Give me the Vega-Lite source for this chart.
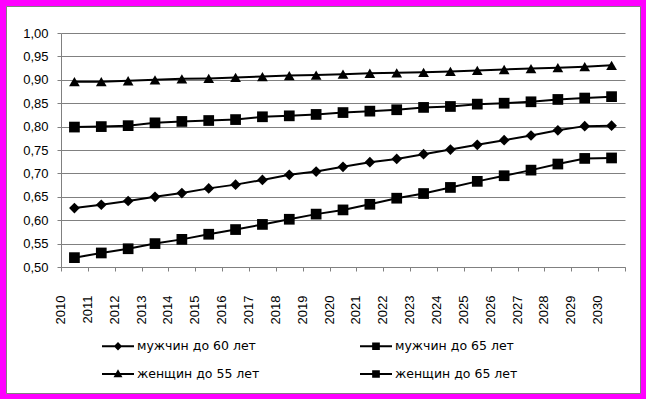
{
  "$schema": "https://vega.github.io/schema/vega-lite/v6.json",
  "width": 634,
  "height": 387,
  "padding": 6,
  "autosize": {"type": "none"},
  "background": "#ff00ff",
  "config": {
    "view": {"fill": "white", "stroke": "#808080", "strokeWidth": 1},
    "font": "Liberation Sans",
    "axis": {"labelFont": "Liberation Sans", "labelFontSize": 13, "labelColor": "black", "domainColor": "#808080", "tickColor": "#808080", "gridColor": "#808080"},
    "legend": {"labelFont": "DejaVu Sans", "labelFontSize": 12.5, "labelColor": "black"}
  },
  "data": {"values": [
    {"year": "2010", "series": "мужчин до 60 лет", "value": 0.626},
    {"year": "2011", "series": "мужчин до 60 лет", "value": 0.633},
    {"year": "2012", "series": "мужчин до 60 лет", "value": 0.641},
    {"year": "2013", "series": "мужчин до 60 лет", "value": 0.650},
    {"year": "2014", "series": "мужчин до 60 лет", "value": 0.658},
    {"year": "2015", "series": "мужчин до 60 лет", "value": 0.668},
    {"year": "2016", "series": "мужчин до 60 лет", "value": 0.676},
    {"year": "2017", "series": "мужчин до 60 лет", "value": 0.686},
    {"year": "2018", "series": "мужчин до 60 лет", "value": 0.697},
    {"year": "2019", "series": "мужчин до 60 лет", "value": 0.704},
    {"year": "2020", "series": "мужчин до 60 лет", "value": 0.714},
    {"year": "2021", "series": "мужчин до 60 лет", "value": 0.724},
    {"year": "2022", "series": "мужчин до 60 лет", "value": 0.731},
    {"year": "2023", "series": "мужчин до 60 лет", "value": 0.741},
    {"year": "2024", "series": "мужчин до 60 лет", "value": 0.751},
    {"year": "2025", "series": "мужчин до 60 лет", "value": 0.761},
    {"year": "2026", "series": "мужчин до 60 лет", "value": 0.771},
    {"year": "2027", "series": "мужчин до 60 лет", "value": 0.781},
    {"year": "2028", "series": "мужчин до 60 лет", "value": 0.792},
    {"year": "2029", "series": "мужчин до 60 лет", "value": 0.801},
    {"year": "2030", "series": "мужчин до 60 лет", "value": 0.802},
    {"year": "2010", "series": "мужчин до 65 лет", "value": 0.799},
    {"year": "2011", "series": "мужчин до 65 лет", "value": 0.800},
    {"year": "2012", "series": "мужчин до 65 лет", "value": 0.802},
    {"year": "2013", "series": "мужчин до 65 лет", "value": 0.808},
    {"year": "2014", "series": "мужчин до 65 лет", "value": 0.811},
    {"year": "2015", "series": "мужчин до 65 лет", "value": 0.813},
    {"year": "2016", "series": "мужчин до 65 лет", "value": 0.815},
    {"year": "2017", "series": "мужчин до 65 лет", "value": 0.821},
    {"year": "2018", "series": "мужчин до 65 лет", "value": 0.823},
    {"year": "2019", "series": "мужчин до 65 лет", "value": 0.826},
    {"year": "2020", "series": "мужчин до 65 лет", "value": 0.830},
    {"year": "2021", "series": "мужчин до 65 лет", "value": 0.833},
    {"year": "2022", "series": "мужчин до 65 лет", "value": 0.836},
    {"year": "2023", "series": "мужчин до 65 лет", "value": 0.841},
    {"year": "2024", "series": "мужчин до 65 лет", "value": 0.843},
    {"year": "2025", "series": "мужчин до 65 лет", "value": 0.848},
    {"year": "2026", "series": "мужчин до 65 лет", "value": 0.850},
    {"year": "2027", "series": "мужчин до 65 лет", "value": 0.853},
    {"year": "2028", "series": "мужчин до 65 лет", "value": 0.858},
    {"year": "2029", "series": "мужчин до 65 лет", "value": 0.861},
    {"year": "2030", "series": "мужчин до 65 лет", "value": 0.864},
    {"year": "2010", "series": "женщин до 55 лет", "value": 0.896},
    {"year": "2011", "series": "женщин до 55 лет", "value": 0.896},
    {"year": "2012", "series": "женщин до 55 лет", "value": 0.898},
    {"year": "2013", "series": "женщин до 55 лет", "value": 0.900},
    {"year": "2014", "series": "женщин до 55 лет", "value": 0.902},
    {"year": "2015", "series": "женщин до 55 лет", "value": 0.903},
    {"year": "2016", "series": "женщин до 55 лет", "value": 0.905},
    {"year": "2017", "series": "женщин до 55 лет", "value": 0.907},
    {"year": "2018", "series": "женщин до 55 лет", "value": 0.909},
    {"year": "2019", "series": "женщин до 55 лет", "value": 0.910},
    {"year": "2020", "series": "женщин до 55 лет", "value": 0.912},
    {"year": "2021", "series": "женщин до 55 лет", "value": 0.914},
    {"year": "2022", "series": "женщин до 55 лет", "value": 0.915},
    {"year": "2023", "series": "женщин до 55 лет", "value": 0.916},
    {"year": "2024", "series": "женщин до 55 лет", "value": 0.918},
    {"year": "2025", "series": "женщин до 55 лет", "value": 0.920},
    {"year": "2026", "series": "женщин до 55 лет", "value": 0.922},
    {"year": "2027", "series": "женщин до 55 лет", "value": 0.924},
    {"year": "2028", "series": "женщин до 55 лет", "value": 0.926},
    {"year": "2029", "series": "женщин до 55 лет", "value": 0.928},
    {"year": "2030", "series": "женщин до 55 лет", "value": 0.931},
    {"year": "2010", "series": "женщин до 65 лет", "value": 0.520},
    {"year": "2011", "series": "женщин до 65 лет", "value": 0.530},
    {"year": "2012", "series": "женщин до 65 лет", "value": 0.539},
    {"year": "2013", "series": "женщин до 65 лет", "value": 0.550},
    {"year": "2014", "series": "женщин до 65 лет", "value": 0.559},
    {"year": "2015", "series": "женщин до 65 лет", "value": 0.570},
    {"year": "2016", "series": "женщин до 65 лет", "value": 0.580},
    {"year": "2017", "series": "женщин до 65 лет", "value": 0.591},
    {"year": "2018", "series": "женщин до 65 лет", "value": 0.602},
    {"year": "2019", "series": "женщин до 65 лет", "value": 0.613},
    {"year": "2020", "series": "женщин до 65 лет", "value": 0.622},
    {"year": "2021", "series": "женщин до 65 лет", "value": 0.634},
    {"year": "2022", "series": "женщин до 65 лет", "value": 0.647},
    {"year": "2023", "series": "женщин до 65 лет", "value": 0.657},
    {"year": "2024", "series": "женщин до 65 лет", "value": 0.670},
    {"year": "2025", "series": "женщин до 65 лет", "value": 0.683},
    {"year": "2026", "series": "женщин до 65 лет", "value": 0.695},
    {"year": "2027", "series": "женщин до 65 лет", "value": 0.707},
    {"year": "2028", "series": "женщин до 65 лет", "value": 0.720},
    {"year": "2029", "series": "женщин до 65 лет", "value": 0.732},
    {"year": "2030", "series": "женщин до 65 лет", "value": 0.733}
  ]},
  "resolve": {"axis": {"x": "independent"}, "scale": {"shape": "independent"}},
  "layer": [
    {
      "mark": {"type": "line", "color": "black", "strokeWidth": 2},
      "encoding": {
        "x": {
          "field": "year", "type": "ordinal", "bandPosition": 0.5,
          "scale": {"type": "band", "range": [55, 619], "paddingInner": 0, "paddingOuter": 0},
          "axis": {"orient": "bottom", "offset": -126, "title": null, "labelAngle": -90, "labelOffset": -13.4, "ticks": false, "tickSize": 0, "labelPadding": 28, "domain": false, "grid": false}
        },
        "y": {
          "field": "value", "type": "quantitative",
          "scale": {"domain": [0.5, 1], "range": [261, 27], "nice": false, "zero": false},
          "axis": {"orient": "left", "offset": -55, "title": null, "values": [0.5, 0.55, 0.6, 0.65, 0.7, 0.75, 0.8, 0.85, 0.9, 0.95, 1.0], "tickCount": 30, "labelOverlap": false, "labelExpr": "replace(format(datum.value, '.2f'), '.', ',')", "grid": true, "tickSize": 4, "labelPadding": 9}
        },
        "detail": {"field": "series"}
      }
    },
    {
      "mark": {"type": "point", "filled": true, "color": "black", "opacity": 1, "size": 115},
      "encoding": {
        "x": {
          "field": "year", "type": "ordinal", "bandPosition": 0.5,
          "axis": {"orient": "bottom", "offset": -126, "title": null, "labels": false, "tickBand": "extent", "tickSize": 4, "domain": true, "grid": false}
        },
        "y": {
          "field": "value", "type": "quantitative",
          "axis": {"orient": "left", "offset": -55, "title": null, "values": [0.5, 0.55, 0.6, 0.65, 0.7, 0.75, 0.8, 0.85, 0.9, 0.95, 1.0], "tickCount": 30, "labelOverlap": false, "labelExpr": "replace(format(datum.value, '.2f'), '.', ',')", "grid": true, "tickSize": 4, "labelPadding": 9}
        },
        "shape": {
          "field": "series", "type": "nominal",
          "scale": {"domain": ["мужчин до 60 лет", "мужчин до 65 лет", "женщин до 55 лет", "женщин до 65 лет"], "range": ["diamond", "square", "triangle-up", "square"]},
          "legend": null
        }
      }
    },
    {
      "mark": {"type": "point", "filled": true, "color": "black", "opacity": 0, "size": 1024},
      "encoding": {
        "x": {"field": "year", "type": "ordinal", "bandPosition": 0.5, "axis": null},
        "y": {
          "field": "value", "type": "quantitative",
          "axis": {"orient": "left", "offset": -55, "title": null, "values": [0.5, 0.55, 0.6, 0.65, 0.7, 0.75, 0.8, 0.85, 0.9, 0.95, 1.0], "tickCount": 30, "labelOverlap": false, "labelExpr": "replace(format(datum.value, '.2f'), '.', ',')", "grid": true, "tickSize": 4, "labelPadding": 9}
        },
        "shape": {
          "field": "series", "type": "nominal",
          "scale": {"domain": ["мужчин до 60 лет", "мужчин до 65 лет", "женщин до 55 лет", "женщин до 65 лет"], "range": ["M-1,-0.07H1V0.07H-1ZM0,-0.26L0.26,0L0,0.26L-0.26,0Z", "M-1,-0.07H1V0.07H-1ZM-0.24,-0.24H0.24V0.24H-0.24Z", "M-1,-0.07H1V0.07H-1ZM0,-0.3L0.28,0.2H-0.28Z", "M-1,-0.07H1V0.07H-1ZM-0.24,-0.24H0.24V0.24H-0.24Z"]},
          "legend": {
            "title": null, "orient": "none", "legendX": 96, "legendY": 324, "direction": "horizontal", "columns": 2, "columnPadding": 100, "rowPadding": 5, "padding": 0,
            "symbolSize": 1024, "labelOffset": 3, "symbolOpacity": 1, "symbolFillColor": "black", "symbolStrokeWidth": 0
          }
        }
      }
    }
  ]
}
